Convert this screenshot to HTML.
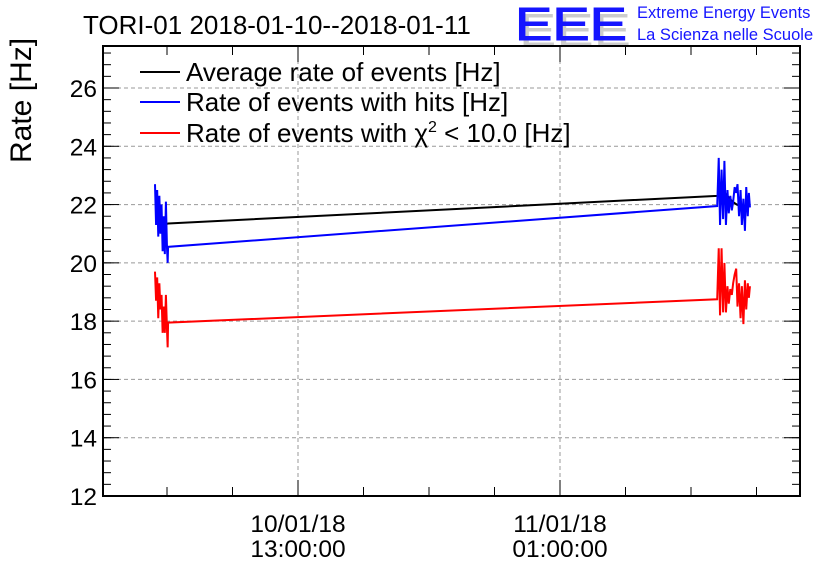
<!DOCTYPE html>
<html><head><meta charset="utf-8"><style>
body{margin:0;background:#fff;}
svg text{font-family:"Liberation Sans",sans-serif;}
</style></head><body>
<svg id="c" width="836" height="572" xmlns="http://www.w3.org/2000/svg">
<rect width="836" height="572" fill="#fff"/>
<text x="83" y="34" font-size="26" fill="#000">TORI-01 2018-01-10--2018-01-11</text>
<g>
<text x="519" y="46" font-size="46" fill="#ccc" textLength="112" lengthAdjust="spacingAndGlyphs">EEE</text>
<text x="515" y="40" font-size="46" fill="#1515ff" stroke="#1515ff" stroke-width="1" textLength="112" lengthAdjust="spacingAndGlyphs">EEE</text>
<text x="637" y="18" font-size="16.5" fill="#1515ff">Extreme Energy Events</text>
<text x="637" y="40" font-size="16.5" fill="#1515ff">La Scienza nelle Scuole</text>
</g>
<text transform="translate(31,163) rotate(-90)" text-anchor="start" font-size="30">Rate [Hz]</text>
<g id="grid"></g><g id="axes"></g><g id="series"></g>
<g font-size="26">
<line x1="140" y1="72" x2="180" y2="72" stroke="#000" stroke-width="2"/>
<text x="186" y="81">Average rate of events [Hz]</text>
<line x1="140" y1="102" x2="180" y2="102" stroke="#00f" stroke-width="2"/>
<text x="186" y="111">Rate of events with hits [Hz]</text>
<line x1="140" y1="133" x2="180" y2="133" stroke="#f00" stroke-width="2"/>
<text x="186" y="142">Rate of events with χ<tspan font-size="16" dy="-10">2</tspan><tspan dy="10"> &lt; 10.0 [Hz]</tspan></text>
</g>
</svg>
<script>
const yTicks=[12,14,16,18,20,22,24,26];
const xTickHours=[0,12];
const xTickLabels=[["10/01/18","13:00:00"],["11/01/18","01:00:00"]];
// hours relative to 10/01/18 13:00
const times=[-6.55,-6.5,-6.45,-6.4,-6.35,-6.3,-6.25,-6.2,-6.15,-6.1,-6.05,-6.0,-5.97,-5.95,
19.2,19.27,19.33,19.4,19.47,19.53,19.6,19.67,19.73,19.8,19.87,19.93,20.0,20.07,20.13,20.2,20.27,20.33,20.4,20.47,20.53,20.6,20.65,20.7];
const blue=[22.7,21.3,22.5,20.9,22.3,21.0,22.0,20.4,21.6,20.3,22.1,20.5,20.0,20.55,
21.95,23.6,21.3,23.2,21.5,23.5,21.3,22.5,21.7,22.3,21.8,22.1,22.6,22.4,22.7,21.6,22.5,21.3,22.2,21.1,22.6,21.6,22.4,21.9];
const red=[19.7,18.7,19.5,18.1,19.3,18.4,18.9,17.6,18.5,17.6,18.9,17.7,17.1,17.95,
18.75,20.5,18.2,20.5,18.3,20.0,18.3,19.2,18.6,19.1,18.9,19.3,19.6,19.8,18.5,19.3,18.1,19.2,17.9,19.4,18.4,19.3,18.8,19.2];
const blackTimes=[-6.2,-5.95,19.2,19.6,19.9,20.1,20.4];
const black=[21.3,21.35,22.3,22.35,22.1,22.0,21.9];

const L=103,R=800,T=46,B=496;
const yS=v=>B-(v-12)*(B-88)/14;
const xS=h=>298+h*262/12;
const NS="http://www.w3.org/2000/svg";
function mk(p,t,a){const e=document.createElementNS(NS,t);for(const k in a)e.setAttribute(k,a[k]);p.appendChild(e);return e;}
const grid=document.getElementById('grid'),axes=document.getElementById('axes'),ser=document.getElementById('series');
yTicks.forEach(v=>{
 if(v>12){const g=mk(grid,'line',{x1:L,x2:R,y1:yS(v),y2:yS(v),stroke:'#999','stroke-dasharray':'4,3'});
 
 }
 const t=mk(axes,'text',{x:97,y:yS(v)+9,'text-anchor':'end','font-size':'24.5'});t.textContent=v;
 
 
 mk(axes,'line',{x1:L,x2:L+16,y1:yS(v),y2:yS(v),stroke:'#000'});
 mk(axes,'line',{x1:R-16,x2:R,y1:yS(v),y2:yS(v),stroke:'#000'});
});
for(let v=12;v<=27.4;v+=0.4){mk(axes,'line',{x1:L,x2:L+8,y1:yS(v),y2:yS(v),stroke:'#000'});mk(axes,'line',{x1:R-8,x2:R,y1:yS(v),y2:yS(v),stroke:'#000'});}
for(let h=-9;h<=24;h+=3){const x=xS(h);if(x<=L||x>=R)continue;const maj=h%12===0;const len=maj?16:9;
 mk(axes,'line',{x1:x,x2:x,y1:B,y2:B-len,stroke:'#000'});mk(axes,'line',{x1:x,x2:x,y1:T,y2:T+len,stroke:'#000'});}
xTickHours.forEach((h,i)=>{
 const g=mk(grid,'line',{x1:xS(h),x2:xS(h),y1:T,y2:B,stroke:'#999','stroke-dasharray':'4,3'});
 
 
 xTickLabels[i].forEach((s,j)=>{const t=mk(axes,'text',{x:xS(h),y:532+j*25,'text-anchor':'middle','font-size':'24.5'});t.textContent=s;
 
 });
});
mk(axes,'rect',{x:L,y:T,width:R-L,height:B-T,fill:'none',stroke:'#000','stroke-width':2});
function line(ts,vs,col,name){const p=mk(ser,'polyline',{points:ts.map((t,i)=>xS(t)+','+yS(vs[i])).join(' '),fill:'none',stroke:col,'stroke-width':2});
 
 }
line(blackTimes,black,'#000','average-rate-line');
line(times,blue,'#00f','hits-rate-line');
line(times,red,'#f00','chi2-rate-line');
</script>
</body></html>
